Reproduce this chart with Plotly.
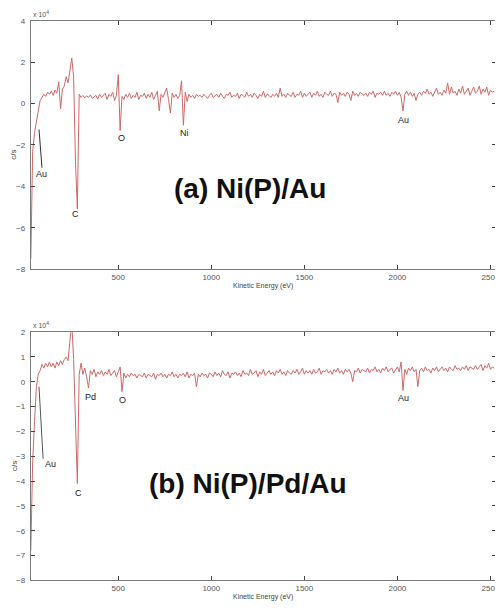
import plotly.graph_objects as go

# Energy grid (eV) shared by both spectra
energy = list(range(30, 2530, 10))

# Panel (a) Ni(P)/Au  — c/s in units of 1e4
counts_a = [
    -7.5, -2.3, -1.4, -0.9, -0.4, 0.15, 0.3, 0.45, 0.35, 0.55,
    0.45, 0.6, 0.4, 0.65, 0.5, 1.05, -0.25, 0.7, 0.85, 1.3,
    1.0, 1.6, 2.2, 1.3, -2.8, -5.1, 0.45, 0.3, 0.4, 0.28,
    0.38, 0.3, 0.42, 0.25, 0.35, 0.4, 0.22, 0.45, 0.3, 0.38,
    0.5, 0.2, 0.45, 0.35, 0.55, 0.15, 0.4, 1.4, -1.3, 0.35,
    0.2, 0.45, 0.3, 0.5, 0.25, 0.4, 0.3, 0.55, 0.2, 0.4,
    0.35, 0.5, 0.25, 0.45, 0.3, 0.55, 0.2, 0.4, 0.6, -0.35,
    0.45, 0.3, 0.55, 0.75, 0.2, -0.45, 0.5, 0.3, 0.45, 0.25,
    0.4, 1.1, -1.05, 0.55, 0.1, 0.45, 0.3, 0.4, 0.25, 0.45,
    0.35, 0.4, 0.3, 0.45, 0.35, 0.25, 0.4, 0.5, 0.3, 0.4,
    0.45, 0.3, 0.5, 0.35, 0.25, 0.45, 0.4, 0.55, 0.3, 0.4,
    0.35, 0.5, 0.25, 0.45, 0.4, 0.3, 0.55, 0.35, 0.45, 0.3,
    0.5, 0.4, 0.25, 0.45, 0.35, 0.6, 0.3, 0.45, 0.4, 0.3,
    0.45, 0.35, 0.5, 0.3, 0.75, 0.35, 0.45, 0.3, 0.5, 0.4,
    0.35, 0.55, 0.3, 0.45, 0.4, 0.6, 0.3, 0.5, 0.35, 0.45,
    0.55, 0.3, 0.5, 0.4, 0.6, 0.35, 0.45, 0.3, 0.55, 0.45,
    0.4, 0.6, 0.35, 0.5, 0.45, 0.05, 0.55, 0.4, 0.5, 0.35,
    0.55, 0.45, 0.15, 0.6, 0.4, 0.5, 0.35, 0.55, 0.45, 0.4,
    0.5, 0.35, 0.55, 0.45, 0.6, 0.3, 0.5, 0.45, 0.55, 0.4,
    0.6, 0.4, 0.5, 0.35, 0.55, 0.45, 0.6, 0.4, 0.55, 0.3,
    -0.35, 0.45, 0.6, 0.4, 0.55, 0.35, 0.5, 0.15, 0.45, 0.55,
    0.4, 0.6, 0.5, 0.7, 0.45, 0.55, 0.35, 0.6, 0.75, 0.45,
    0.55, 0.4, 0.65, 0.5, 1.0, 0.45, 0.8, 0.5, 0.6, 0.4,
    0.7, 0.5, 0.85, 0.45, 0.6, 0.75, 0.4, 0.65, 0.8, 0.5,
    0.6, 0.85, 0.45, 0.7, 0.55, 0.8, 0.4, 0.65, 0.55, 0.6,
]

# Panel (b) Ni(P)/Pd/Au — c/s in units of 1e4
counts_b = [
    -6.8, -3.2, -1.6, -0.2, 0.3, 0.45, 0.7, 0.55, 0.75, 0.6,
    0.8, 0.6, 0.75, 0.55, 0.8, 0.65, 0.85, 0.7, 0.9, 1.0,
    0.85, 1.5, 2.4, 0.9, -1.8, -4.1, 0.3, 0.75, 0.3, 0.55,
    0.2, -0.25, 0.45, 0.3, 0.5, 0.2, 0.4, 0.3, 0.45, 0.25,
    0.4, 0.3, 0.5, 0.25, 0.35, 0.45, 0.2, 0.4, 0.6, -0.4,
    0.35, 0.15, 0.3, 0.2, 0.35, 0.25, 0.3, 0.15, 0.3, 0.25,
    0.2, 0.35, 0.15, 0.3, 0.25, 0.2, 0.35, 0.1, 0.3, 0.25,
    0.35, 0.2, 0.3, 0.15, 0.3, 0.25, 0.4, 0.2, 0.3, 0.15,
    0.3, 0.25, 0.35, 0.2, 0.4, 0.15, 0.3, 0.25, 0.35, -0.2,
    0.3, 0.2, 0.35, 0.25, 0.3, 0.15, 0.35, 0.3, 0.2, 0.4,
    0.25, 0.35, 0.2, 0.45, 0.3, 0.25, 0.4, 0.15, 0.35, 0.3,
    0.4, 0.25, 0.35, 0.2, 0.45, 0.3, 0.35, 0.25, 0.5, 0.3,
    0.35, 0.45, 0.2, 0.4, 0.3, 0.5, 0.25, 0.35, 0.45, 0.3,
    0.4, 0.25, 0.45, 0.35, 0.5, 0.3, 0.4, 0.25, 0.45, 0.35,
    0.3, 0.45, 0.35, 0.5, 0.3, 0.4, 0.55, 0.3, 0.45, 0.35,
    0.45, 0.3, 0.5, 0.35, 0.4, 0.55, 0.3, 0.45, 0.4, 0.5,
    0.35, 0.45, 0.3, 0.5, 0.4, 0.55, 0.35, 0.45, 0.3, 0.5,
    0.4, 0.5, 0.35, 0.0, 0.45, 0.4, 0.55, 0.35, 0.5, 0.45,
    0.4, 0.55, 0.35, 0.5, 0.45, 0.6, 0.4, 0.5, 0.35, 0.55,
    0.45, 0.6, 0.4, 0.5, 0.55, 0.35, 0.45, 0.6, 0.4, 0.8,
    -0.35, 0.5, 0.3, 0.55, 0.45, 0.6, 0.4, 0.5, -0.2, 0.45,
    0.55, 0.4, 0.6, 0.45, 0.5, 0.35, 0.55, 0.45, 0.6, 0.4,
    0.5, 0.6, 0.45, 0.55, 0.4, 0.6, 0.5, 0.45, 0.65, 0.5,
    0.55, 0.45, 0.6, 0.5, 0.65, 0.45, 0.6, 0.55, 0.5, 0.65,
    0.5, 0.6, 0.7, 0.45, 0.65, 0.55, 0.75, 0.5, 0.6, 0.55,
]

x_ticks = [500, 1000, 1500, 2000, 2500]
y_ticks_a = [-8, -6, -4, -2, 0, 2, 4]
y_ticks_b = [-8, -7, -6, -5, -4, -3, -2, -1, 0, 1, 2]

# Peak labels: (text, energy eV, position in 1e4 c/s)
peaks_a = [("C", 271, -5.35), ("O", 516, -1.65), ("Ni", 856, -1.4), ("Au", 2032, -0.8), ("Au", 85, -3.4)]
peaks_b = [("C", 287, -4.5), ("Pd", 351, -0.62), ("O", 521, -0.74), ("Au", 2032, -0.66), ("Au", 135, -3.3)]

# page offset (browser body margin) compensation
OX, OY = 8, 8
W, H = 495, 600
LINE = "#d06868"
AX = "#7a7a7a"
TICKF = dict(family="Liberation Sans, Arial", size=8, color="#555")

fig = go.Figure()
fig.add_trace(go.Scatter(x=energy, y=counts_a, mode="lines", line=dict(color=LINE, width=1),
                         xaxis="x", yaxis="y", showlegend=False))
fig.add_trace(go.Scatter(x=energy, y=counts_b, mode="lines", line=dict(color=LINE, width=1),
                         xaxis="x2", yaxis="y2", showlegend=False))

def px_x(p):
    return (p - OX) / W

def px_y(p):
    return 1 - (p - OY) / H

common_x = dict(range=[30, 2530], tickvals=x_ticks, ticks="inside", ticklen=4, tickcolor="#444",
                showline=True, linecolor=AX, linewidth=1, mirror="ticks", showgrid=False,
                zeroline=False, tickfont=TICKF, ticklabeloverflow="allow")
common_y = dict(ticks="inside", ticklen=4, tickcolor="#444", showline=True, linecolor=AX,
                linewidth=1, mirror="ticks", showgrid=False, zeroline=False, tickfont=TICKF,
                ticklabelstandoff=3)

fig.update_layout(
    width=W, height=H, margin=dict(l=0, r=0, t=0, b=0),
    paper_bgcolor="white", plot_bgcolor="white",
    xaxis=dict(domain=[px_x(31), px_x(500)], anchor="y", **common_x),
    yaxis=dict(domain=[px_y(269), px_y(17)], anchor="x", range=[-8, 4], tickvals=y_ticks_a, **common_y),
    xaxis2=dict(domain=[px_x(31), px_x(500)], anchor="y2", **common_x),
    yaxis2=dict(domain=[px_y(585), px_y(333)], anchor="x2", range=[-8, 2], tickvals=y_ticks_b, **common_y),
)

ann = []
lblf = dict(family="Liberation Sans, Arial", size=9, color="#222")
for t, ex, yy in peaks_a:
    ann.append(dict(x=ex, y=yy, xref="x", yref="y", text=t, showarrow=False, font=lblf,
                    xanchor="center", yanchor="middle"))
for t, ex, yy in peaks_b:
    ann.append(dict(x=ex, y=yy, xref="x2", yref="y2", text=t, showarrow=False, font=lblf,
                    xanchor="center", yanchor="middle"))

smallf = dict(family="Liberation Sans, Arial", size=7, color="#555")
for top, bot in [(17, 269), (333, 585)]:
    ann.append(dict(x=px_x(31), y=px_y(top - 1), xref="paper", yref="paper", text="x 10<sup>4</sup>",
                    showarrow=False, font=smallf, xanchor="left", yanchor="bottom"))
    ann.append(dict(x=px_x(14), y=px_y((top + bot) / 2 + 10), xref="paper", yref="paper", text="c/s",
                    showarrow=False, font=dict(family="Liberation Sans, Arial", size=8, color="#444"),
                    textangle=-90, xanchor="center", yanchor="middle"))
    ann.append(dict(x=px_x(265), y=px_y(bot + 17), xref="paper", yref="paper", text="Kinetic Energy (eV)",
                    showarrow=False, font=dict(family="Liberation Sans, Arial", size=7, color="#444"),
                    xanchor="center", yanchor="middle"))

bigf = dict(family="Liberation Sans, Arial", size=28, color="#111", weight="bold")
ann.append(dict(x=px_x(252), y=px_y(187), xref="paper", yref="paper", text="(a) Ni(P)/Au",
                showarrow=False, font=bigf, xanchor="center", yanchor="middle"))
ann.append(dict(x=px_x(250), y=px_y(487), xref="paper", yref="paper", text="(b) Ni(P)/Pd/Au",
                showarrow=False, font=bigf, xanchor="center", yanchor="middle"))

fig.update_layout(annotations=ann)

# Leader lines for the low-energy Au labels
fig.add_shape(type="line", xref="x", yref="y", x0=74, y0=-1.25, x1=90, y1=-3.1,
              line=dict(color="#333", width=1))
fig.add_shape(type="line", xref="x2", yref="y2", x0=74, y0=-0.2, x1=96, y1=-3.1,
              line=dict(color="#555", width=1))

fig.write_html("out.html")
